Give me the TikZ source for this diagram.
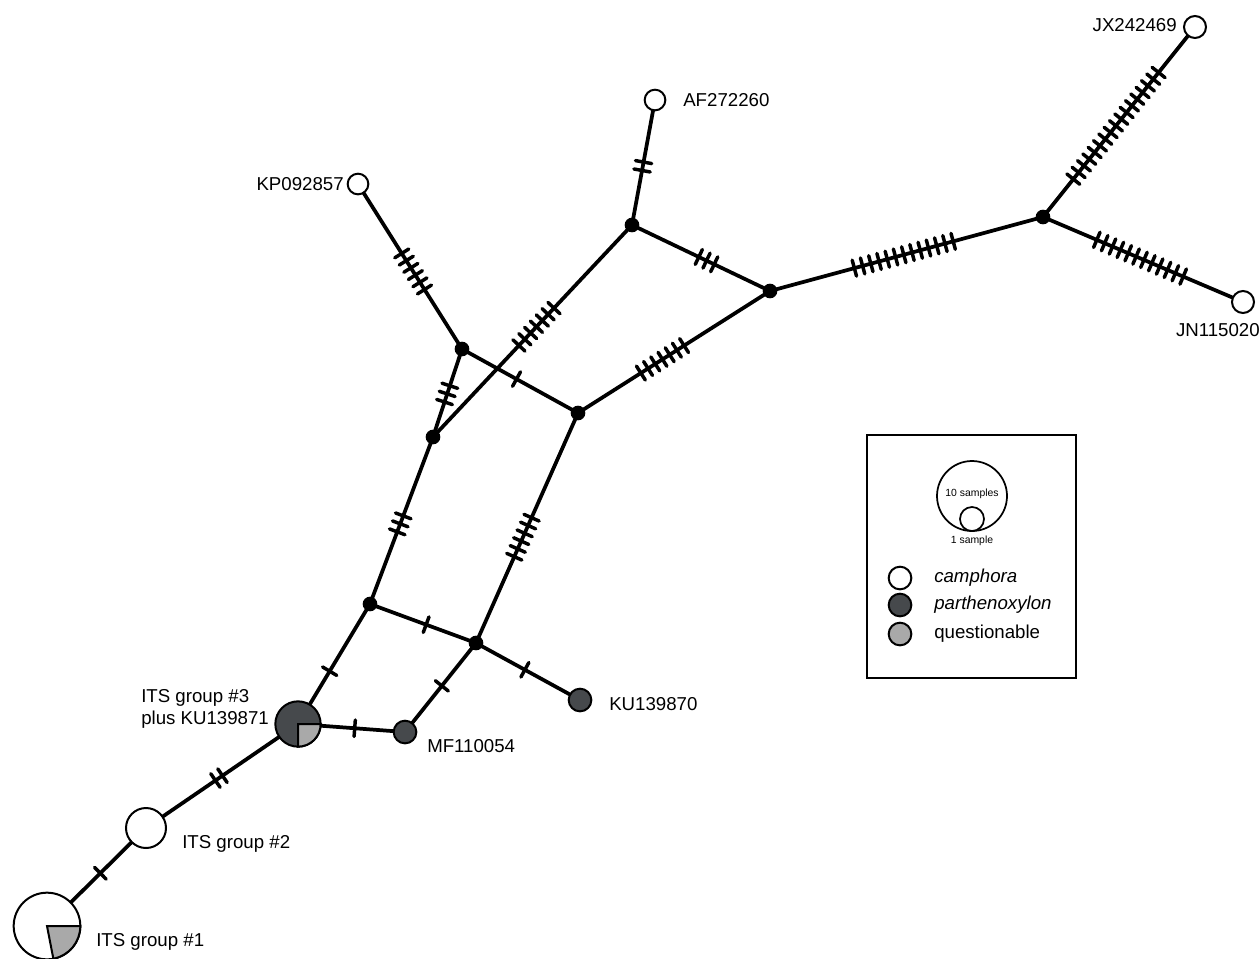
\documentclass[tikz,border=0pt]{standalone}
\usepackage{fontspec}
\setmainfont{Liberation Sans}
\usetikzlibrary{decorations.markings,backgrounds}
\definecolor{darkg}{HTML}{46494C}
\definecolor{lightg}{HTML}{A9A9A9}
\tikzset{
  hap/.style={circle,draw=black,line width=1.5pt,fill=white,inner sep=0pt,minimum size=#1},
  junc/.style={circle,fill=black,inner sep=0pt,minimum size=11pt},
  conn/.style={line width=2.8pt},
  tickline/.style={line width=2.6pt,line cap=round},
  mut/.style 2 args={postaction={decorate,decoration={markings,mark=at position #2 with {\foreach \i in {1,...,#1}{\draw[tickline] ({(\i-(#1+1)/2)*6.4pt},-6.2pt) -- ({(\i-(#1+1)/2)*6.4pt},6.2pt);}}}}},
  lbl/.style={font=\fontsize{14}{17}\selectfont,inner sep=0pt},
  small/.style={font=\fontsize{7.8}{9}\selectfont,inner sep=0pt}
}
\begin{document}
\begin{tikzpicture}[x=0.75pt,y=0.75pt]
\useasboundingbox (0,0) rectangle (1260,-958);
% haplotype nodes
\node[hap=50pt] (its1) at (47,-926) {};
\node[hap=30pt] (its2) at (146,-828) {};
\node[hap=34pt,fill=darkg] (its3) at (298,-724) {};
\node[hap=17pt,fill=darkg] (mf) at (405,-732) {};
\node[hap=17pt,fill=darkg] (ku) at (580,-700) {};
\node[hap=15.5pt] (af) at (655,-100) {};
\node[hap=15.5pt] (kp) at (358,-184) {};
\node[hap=16.5pt] (jx) at (1195,-27) {};
\node[hap=16.5pt] (jn) at (1243,-302) {};
% median vectors
\node[junc] (A) at (370,-604) {};
\node[junc] (B) at (476,-643) {};
\node[junc] (C) at (433,-437) {};
\node[junc] (D) at (462,-349) {};
\node[junc] (E) at (578,-413) {};
\node[junc] (F) at (632,-225) {};
\node[junc] (G) at (770,-291) {};
\node[junc] (H) at (1043,-217) {};
% pie wedges
\filldraw[fill=lightg,draw=black,line width=1.5pt] (its1.center) -- ++(0:25pt) arc[start angle=0,end angle=-79,radius=25pt] -- cycle;
\filldraw[fill=lightg,draw=black,line width=1.5pt] (its3.center) -- ++(0:17pt) arc[start angle=0,end angle=-90,radius=17pt] -- cycle;
% connectors
\begin{scope}[on background layer]
\draw[conn,mut={1}{0.54}] (its1.center) -- (its2.center);
\draw[conn,mut={2}{0.48}] (its2.center) -- (its3.center);
\draw[conn,mut={1}{0.44}] (its3.center) -- (A.center);
\draw[conn,mut={1}{0.53}] (its3.center) -- (mf.center);
\draw[conn,mut={1}{0.52}] (mf.center) -- (B.center);
\draw[conn,mut={1}{0.53}] (A.center) -- (B.center);
\draw[conn,mut={1}{0.47}] (B.center) -- (ku.center);
\draw[conn,mut={3}{0.48}] (A.center) -- (C.center);
\draw[conn,mut={6}{0.46}] (B.center) -- (E.center);
\draw[conn,mut={3}{0.49}] (C.center) -- (D.center);
\draw[conn,mut={7}{0.52}] (C.center) -- (F.center);
\draw[conn,mut={1}{0.47}] (D.center) -- (E.center);
\draw[conn,mut={6}{0.47}] (D.center) -- (kp.center);
\draw[conn,mut={7}{0.44}] (E.center) -- (G.center);
\draw[conn,mut={2}{0.47}] (F.center) -- (af.center);
\draw[conn,mut={3}{0.54}] (F.center) -- (G.center);
\draw[conn,mut={13}{0.49}] (G.center) -- (H.center);
\draw[conn,mut={17}{0.48}] (H.center) -- (jx.center);
\draw[conn,mut={12}{0.485}] (H.center) -- (jn.center);
\end{scope}
% labels
\node[lbl,anchor=east] (ljx) at (1177,-25) {JX242469};
\node[lbl,anchor=west] (laf) at (683,-100) {AF272260};
\node[lbl,anchor=east] (lkp) at (344,-184) {KP092857};
\node[lbl,anchor=east] (ljn) at (1260,-330) {JN115020};
\node[lbl,anchor=west] (lku) at (609,-704) {KU139870};
\node[lbl,anchor=west] (lmf) at (427,-746) {MF110054};
\node[lbl,anchor=west,align=left] (l3) at (141,-709) {ITS group \#3\\plus KU139871};
\node[lbl,anchor=west] (l2) at (182,-844) {ITS group \#2};
\node[lbl,anchor=west] (l1) at (96,-942) {ITS group \#1};
% legend
\node[draw=black,line width=1.2pt,minimum width=156.75pt,minimum height=182.25pt,inner sep=0pt] (legend) at (971.5,-556.5) {};
\node[circle,draw=black,line width=1.3pt,minimum size=52.5pt,inner sep=0pt] (big) at (972,-496) {};
\node[circle,draw=black,line width=1.3pt,minimum size=18pt,inner sep=0pt,fill=white] (sm) at (972,-519) {};
\node[small] (t10) at (972,-494) {10 samples};
\node[small] (t1) at (972,-541) {1 sample};
\node[hap=17pt] (lc) at (900,-578) {};
\node[hap=17pt,fill=darkg] (lp) at (900,-605) {};
\node[hap=17pt,fill=lightg] (lq) at (900,-634) {};
\node[lbl,anchor=west] (tc) at (934,-578) {\itshape camphora};
\node[lbl,anchor=west] (tp) at (934,-605) {\itshape parthenoxylon};
\node[lbl,anchor=west] (tq) at (934,-634) {questionable};
\end{tikzpicture}
\end{document}
